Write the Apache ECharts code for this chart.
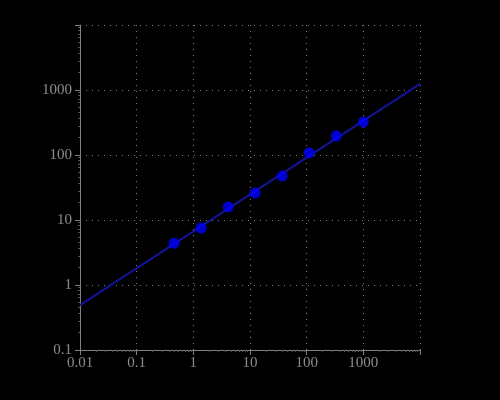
<!DOCTYPE html>
<html>
<head>
<meta charset="utf-8">
<script src="https://cdn.jsdelivr.net/npm/echarts@6/dist/echarts.min.js"></script>
<style>html,body{margin:0;padding:0;background:#000;}#c{width:500px;height:400px;}</style>
</head>
<body>
<div id="c"></div>
<script>
var pointX = [0.457, 1.37, 4.12, 12.3, 37.0, 111, 333, 1000];
var pointY = [4.4, 7.5, 15.9, 26.0, 47.5, 108, 196, 322];
var fitX = [0.01, 10000];
var fitY = [0.49, 1240];

var chart = echarts.init(document.getElementById('c'));
var axisCol = '#808080';
var textStyle = {color: '#8c8c8c', fontFamily: 'Liberation Serif', fontSize: 15};
function fmt(v){ return String(+v.toPrecision(6)); }
function axis(min, max, margin) {
  return {
    type: 'log', logBase: 10, min: min, max: max,
    axisLine: {show: true, onZero: false, lineStyle: {color: axisCol, width: 1}},
    axisTick: {show: true, length: 5, lineStyle: {color: axisCol}},
    minorTick: {show: true, splitNumber: 10, length: 2, lineStyle: {color: '#555'}},
    splitLine: {show: true, lineStyle: {color: '#808080', type: [1, 5], width: 1}},
    axisLabel: Object.assign({showMaxLabel: false, margin: margin, formatter: fmt}, textStyle)
  };
}
chart.setOption({
  backgroundColor: '#000',
  animation: false,
  grid: {left: 80, right: 80, top: 25, bottom: 50},
  xAxis: axis(0.01, 10000, 6),
  yAxis: axis(0.1, 10000, 8),
  series: [
    {type: 'line', data: fitX.map(function(x, i){ return [x, fitY[i]]; }), showSymbol: false,
     lineStyle: {color: '#14149a', width: 2}, z: 2},
    {type: 'scatter', data: pointX.map(function(x, i){ return [x, pointY[i]]; }), symbolSize: 11,
     itemStyle: {color: '#0000ff'}, z: 3}
  ]
});
</script>
</body>
</html>
